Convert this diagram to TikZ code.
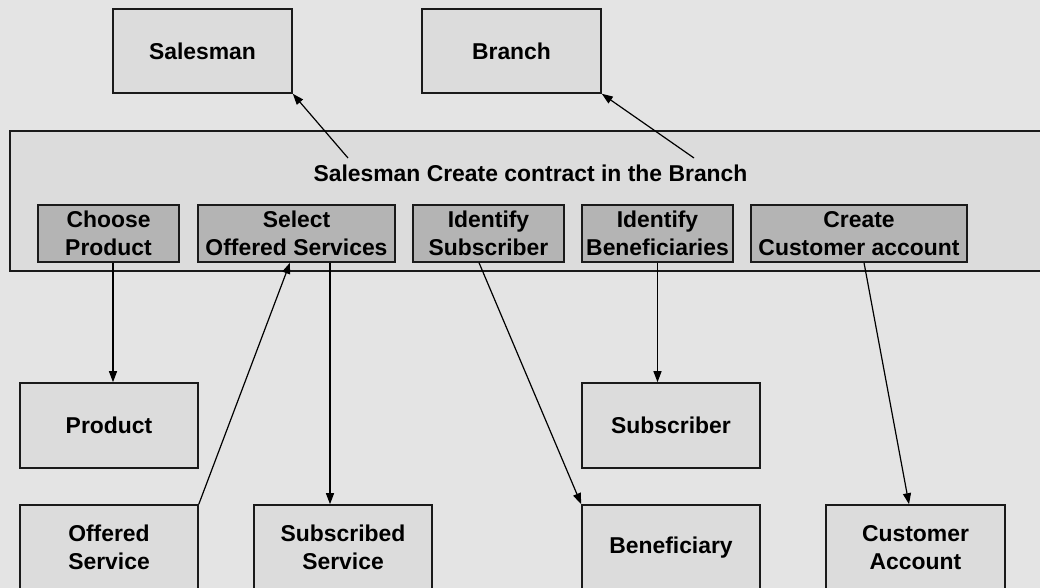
\documentclass[tikz,border=0pt]{standalone}
\usepackage{fontspec}
\setmainfont{Liberation Sans}
\usetikzlibrary{arrows.meta}
\definecolor{bg}{HTML}{E4E4E4}
\definecolor{boxfill}{HTML}{DCDCDC}
\definecolor{actfill}{HTML}{B4B4B4}
\definecolor{edge}{HTML}{1A1A1A}
\begin{document}
\begin{tikzpicture}[x=1pt,y=-1pt,
  every node/.style={font=\fontsize{22.9}{28}\selectfont\bfseries, align=center, inner sep=0pt},
  entity/.style={draw=edge, fill=boxfill, line width=1.6pt, minimum width=178pt, minimum height=85pt},
  container/.style={draw=edge, fill=boxfill, line width=1.6pt, minimum width=1040pt, minimum height=140pt},
  action/.style={draw=edge, fill=actfill, line width=1.4pt, minimum height=57pt},
  link/.style={draw=black, line width=1.2pt, -{Triangle[length=11pt,width=8pt]}}]
\clip (0,0) rectangle (1040,588);
\fill[bg] (0,0) rectangle (1040,588);
% top entities
\node[entity, minimum width=179pt, minimum height=84pt] (sal) at (202.5,51) {Salesman};
\node[entity, minimum width=179pt, minimum height=84pt] (br) at (511.5,51) {Branch};
% container
\node[container] (contract) at (530,201) {};
\node[anchor=base] (ttl) at (530.5,182) {Salesman Create contract in the Branch};
\coordinate (salfrom) at (348,158);
\coordinate (brfrom) at (694,158);
% actions
\node[action, minimum width=141pt] (choose) at (108.5,233.5) {Choose\\Product};
\node[action, minimum width=197pt] (sel) at (296.5,233.5) {Select\\Offered Services};
\node[action, minimum width=151pt] (idsub) at (488.5,233.5) {Identify\\Subscriber};
\node[action, minimum width=151pt] (idben) at (657.5,233.5) {Identify\\Beneficiaries};
\node[action, minimum width=216pt] (create) at (859,233.5) {Create\\Customer account};
% lower entities
\node[entity] (prod) at (109,425.5) {Product};
\node[entity] (subscr) at (671,425.5) {Subscriber};
\node[entity] (offs) at (109,547.5) {Offered\\Service};
\node[entity] (subs) at (343,547.5) {Subscribed\\Service};
\node[entity] (ben) at (671,547.5) {Beneficiary};
\node[entity, minimum width=179pt] (cacc) at (915.5,547.5) {Customer\\Account};
% connectors
\draw[link] (salfrom) -- (sal.south east);
\draw[link] (brfrom) -- (br.south east);
\draw[link] ([xshift=4.5pt]choose.south) -- ([xshift=4.5pt]choose.south |- prod.north);
\draw[link] (offs.north east) -- ([xshift=-6.5pt]sel.south);
\draw[link] ([xshift=33.5pt]sel.south) -- ([xshift=33.5pt]sel.south |- subs.north);
\draw[link] ([xshift=-9.5pt]idsub.south) -- (ben.north west);
\draw[link] (idben.south) -- (idben.south |- subscr.north);
\draw[link] ([xshift=5pt]create.south) -- ([xshift=-6.5pt]cacc.north);
\end{tikzpicture}
\end{document}
